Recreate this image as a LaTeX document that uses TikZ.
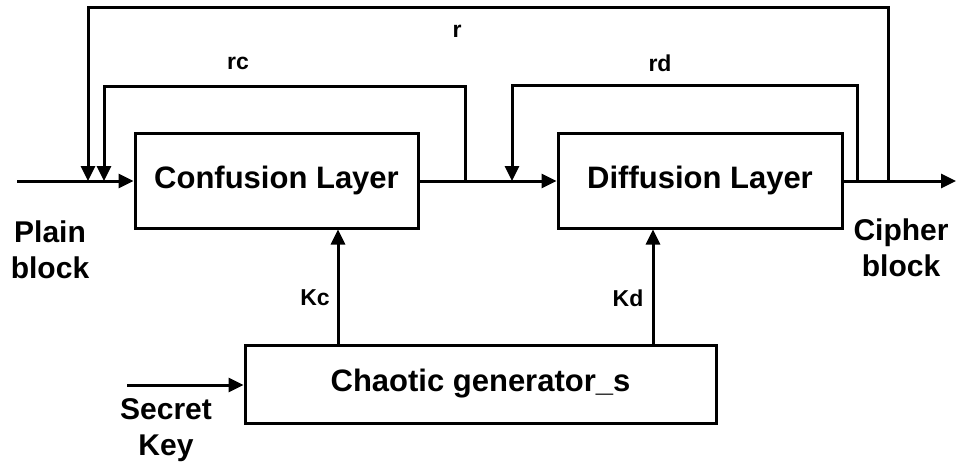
\documentclass[tikz,border=0pt]{standalone}
\usepackage{fontspec}
\setmainfont{Liberation Sans}
\usetikzlibrary{arrows.meta}
\begin{document}
\begin{tikzpicture}[x=1pt,y=-1pt,
  line width=3pt,
  every node/.style={font=\bfseries},
  boxnode/.style={draw, line width=3pt, inner sep=0pt, font=\bfseries\fontsize{31}{36}\selectfont},
  biglabel/.style={align=center, inner sep=0pt, font=\bfseries\fontsize{30}{36}\selectfont},
  smalllabel/.style={inner sep=0pt, font=\bfseries\fontsize{23}{26}\selectfont},
  arr/.style={-{Triangle[length=15pt,width=14pt]}},
  conn/.style={line width=3pt}]
\useasboundingbox (0,0) rectangle (957,468);
% boxes
\node[boxnode, minimum width=283pt, minimum height=95pt] (conf) at (276.5,180.5) {Confusion Layer};
\node[boxnode, minimum width=284pt, minimum height=95pt] (diff) at (700,180.5) {Diffusion Layer};
\node[boxnode, minimum width=471pt, minimum height=78pt] (chaos) at (480.5,384) {Chaotic generator\_s};
% coordinates
\coordinate (inp) at (17,181);
\coordinate (outp) at (956,181);
\coordinate (rdrop) at (88,181);
\coordinate (rcdrop) at (104,181);
\coordinate (rctap) at (465,181);
\coordinate (rddrop) at (512,181);
\coordinate (rdtap) at (857,181);
\coordinate (rtap) at (888,181);
\coordinate (keyin) at (127,385);
% main line
\draw[arr] (inp) -- (conf.west |- inp);
\draw[arr] (conf.east |- inp) -- (diff.west |- inp);
\draw[arr] (diff.east |- inp) -- (outp);
% feedback loops
\draw[arr] (rtap) -- (888,8) -- (88,8) -- (rdrop);
\draw[arr] (rctap) -- (465,87) -- (104,87) -- (rcdrop);
\draw[arr] (rdtap) -- (857,86) -- (512,86) -- (rddrop);
% key arrows
\draw[arr] (chaos.north -| 338,0) -- (conf.south -| 338,0);
\draw[arr] (chaos.north -| 653,0) -- (diff.south -| 653,0);
\draw[arr] (keyin) -- (chaos.west |- keyin);
% labels
\node[smalllabel] (lr) at (457,31) {r};
\node[smalllabel] (lrc) at (238,63) {rc};
\node[smalllabel] (lrd) at (660,63) {rd};
\node[smalllabel] (lkc) at (315,298) {Kc};
\node[smalllabel] (lkd) at (628,298) {Kd};
\node[biglabel] (plain) at (50,250) {Plain\\block};
\node[biglabel] (cipher) at (901,248) {Cipher\\block};
\node[biglabel] (secret) at (166,430) {Secret\\Key};
\end{tikzpicture}
\end{document}
